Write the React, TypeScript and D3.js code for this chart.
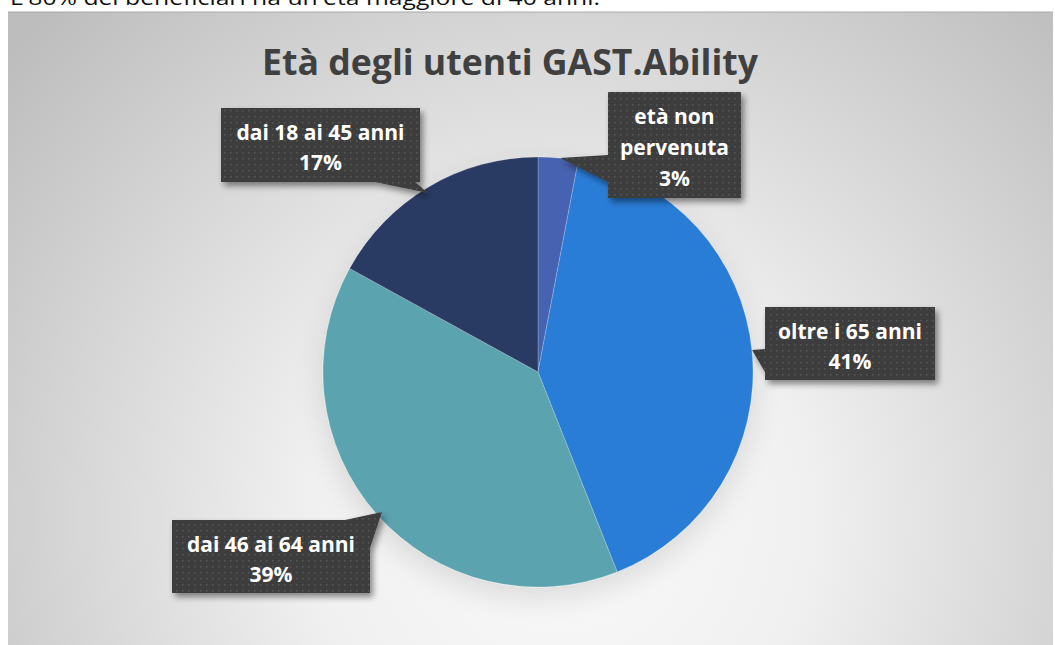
import { useEffect, useRef } from "react";
import * as d3 from "d3";

const categories = ["età non pervenuta", "oltre i 65 anni", "dai 46 ai 64 anni", "dai 18 ai 45 anni"];
const values = [3, 41, 39, 17];
const colors = ["#4662B0", "#2B7DD7", "#5AA3AF", "#2C3B64"];
const labelLines = [
  ["età non", "pervenuta", "3%"],
  ["oltre i 65 anni", "41%"],
  ["dai 46 ai 64 anni", "39%"],
  ["dai 18 ai 45 anni", "17%"],
];
const title = "Età degli utenti GAST.Ability";
const caption = "L'80% dei beneficiari ha un'età maggiore di 40 anni.";

// callout boxes: x, y, w, h, and pointer triangle (relative to page)
const callouts = [
  { x: 608, y: 92, w: 133, h: 106, ptr: [[608, 155], [560, 158], [608, 182]] },
  { x: 765, y: 307, w: 170, h: 73, ptr: [[765, 349], [752, 350], [765, 372]] },
  { x: 172, y: 520, w: 198, h: 73, ptr: [[345, 520], [382, 512], [370, 548]] },
  { x: 221, y: 108, w: 199, h: 74, ptr: [[375, 182], [428, 193], [415, 182]] },
];

export default function App() {
  const svgRef = useRef<SVGSVGElement | null>(null);

  useEffect(() => {
    const width = 1055;
    const height = 645;
    const svg = d3.select(svgRef.current);
    svg.selectAll("*").remove();
    svg.attr("width", width).attr("height", height);

    const defs = svg.append("defs");
    const grad = defs.append("radialGradient")
      .attr("id", "bg")
      .attr("gradientUnits", "userSpaceOnUse")
      .attr("cx", 560).attr("cy", 520).attr("r", 720);
    grad.append("stop").attr("offset", "0").attr("stop-color", "#fafafa");
    grad.append("stop").attr("offset", "0.35").attr("stop-color", "#f0f0f0");
    grad.append("stop").attr("offset", "1").attr("stop-color", "#bdbdbd");

    const pat = defs.append("pattern")
      .attr("id", "dots")
      .attr("patternUnits", "userSpaceOnUse")
      .attr("width", 6).attr("height", 6);
    pat.append("rect").attr("width", 6).attr("height", 6).attr("fill", "#3d3d3d");
    pat.append("rect").attr("x", 2).attr("y", 2).attr("width", 1.5).attr("height", 1.5).attr("fill", "#595959");

    const shadow = defs.append("filter").attr("id", "shadow")
      .attr("x", "-20%").attr("y", "-20%").attr("width", "150%").attr("height", "160%");
    shadow.append("feDropShadow").attr("dx", 3).attr("dy", 4).attr("stdDeviation", 3)
      .attr("flood-color", "#000").attr("flood-opacity", 0.45);

    const pieShadow = defs.append("filter").attr("id", "pieShadow")
      .attr("x", "-30%").attr("y", "-30%").attr("width", "160%").attr("height", "170%");
    pieShadow.append("feDropShadow").attr("dx", 0).attr("dy", 10).attr("stdDeviation", 14)
      .attr("flood-color", "#000").attr("flood-opacity", 0.12);

    // page caption (cut at top, as in the source screenshot)
    svg.append("text")
      .attr("x", 10).attr("y", 5)
      .attr("font-family", "'Open Sans', sans-serif")
      .attr("font-size", 20)
      .attr("fill", "#111")
      .attr("textLength", 590)
      .attr("lengthAdjust", "spacingAndGlyphs")
      .text(caption);

    // chart area
    svg.append("rect")
      .attr("x", 8).attr("y", 12)
      .attr("width", 1045).attr("height", 640)
      .attr("fill", "url(#bg)");
    svg.append("line")
      .attr("x1", 8).attr("x2", 1053).attr("y1", 12).attr("y2", 12)
      .attr("stroke", "#a8a8a8").attr("stroke-width", 1);

    svg.append("text")
      .attr("x", 510).attr("y", 75)
      .attr("text-anchor", "middle")
      .attr("font-family", "'Open Sans', sans-serif")
      .attr("font-weight", "bold")
      .attr("font-size", 36)
      .attr("fill", "#404040")
      .attr("textLength", 496)
      .attr("lengthAdjust", "spacingAndGlyphs")
      .text(title);

    const cx = 538;
    const cy = 372;
    const radius = 215;

    const pie = d3.pie<number>().sort(null).value((d) => d);
    const arc = d3.arc<d3.PieArcDatum<number>>().innerRadius(0).outerRadius(radius);

    const g = svg.append("g")
      .attr("transform", `translate(${cx},${cy})`)
      .attr("filter", "url(#pieShadow)");
    g.selectAll("path")
      .data(pie(values))
      .enter()
      .append("path")
      .attr("d", arc)
      .attr("fill", (_, i) => colors[i])
      .attr("stroke", "#ffffff")
      .attr("stroke-opacity", 0.35)
      .attr("stroke-width", 0.6)
      .append("title")
      .text((d, i) => `${categories[i]}: ${d.data}%`);

    // callouts
    callouts.forEach((c, i) => {
      const box = svg.append("g").attr("filter", "url(#shadow)");
      box.append("path")
        .attr("d", d3.line()(c.ptr as [number, number][]) + "Z")
        .attr("fill", "url(#dots)");
      box.append("rect")
        .attr("x", c.x).attr("y", c.y)
        .attr("width", c.w).attr("height", c.h)
        .attr("fill", "url(#dots)");
      const lines = labelLines[i];
      const lh = lines.length > 2 ? 31 : 30;
      const first = c.y + c.h / 2 - ((lines.length - 1) * lh) / 2 + 10;
      lines.forEach((t, j) => {
        svg.append("text")
          .attr("x", c.x + c.w / 2)
          .attr("y", first + j * lh)
          .attr("text-anchor", "middle")
          .attr("font-family", "'Open Sans', sans-serif")
          .attr("font-weight", "bold")
          .attr("font-size", 21)
          .attr("fill", "#ffffff")
          .text(t);
      });
    });
  }, []);

  return (
    <div style={{ position: "absolute", left: 0, top: 0 }}>
      <svg ref={svgRef} style={{ display: "block" }} />
    </div>
  );
}
